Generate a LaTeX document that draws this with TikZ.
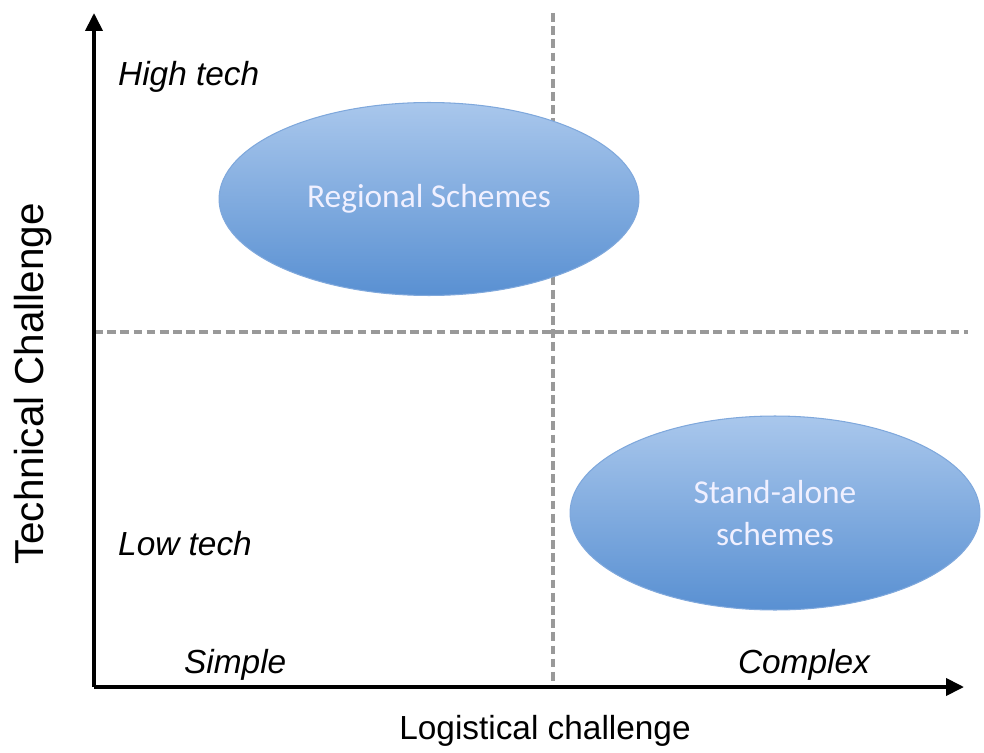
\documentclass[tikz,border=0pt]{standalone}
\usepackage{fontspec}
\setmainfont{Liberation Sans}
\newfontfamily\schemefont{Carlito}
\usetikzlibrary{arrows.meta,shapes.geometric}

\definecolor{schemetop}{HTML}{A9C7EC}
\definecolor{schemebot}{HTML}{5990D2}
\definecolor{schemeline}{HTML}{7FA8DC}

\begin{document}
\begin{tikzpicture}[x=0.02cm, y=-0.02cm,
  axis/.style={line width=2.2pt, -{Triangle[length=3.6mm, width=3.4mm]}},
  guide/.style={draw=black!40, line width=1.9pt, dash pattern=on 5pt off 2.5pt},
  scheme/.style={ellipse, draw=schemeline, line width=0.6pt, top color=schemetop, bottom color=schemebot,
    text=white!94!blue, align=center, inner sep=0pt, font=\schemefont\fontsize{19}{24}\selectfont},
  level/.style={font=\itshape\fontsize{19}{22}\selectfont},
  title/.style={font=\fontsize{19}{22}\selectfont}]

% fix the page to the size of the picture
\useasboundingbox (0,0) rectangle (984,753);

% corner points of the axes and the dashed split
\coordinate (origin) at (94,687);
\coordinate (ytip) at (94,13);
\coordinate (xtip) at (964,687);
\coordinate (vtop) at (553,13);
\coordinate (vbot) at (553,687);
\coordinate (hleft) at (94,332);
\coordinate (hright) at (968,332);

% the dashed quadrant lines
\draw[guide] (vtop) -- (vbot);
\draw[guide] (hleft) -- (hright);

% the two schemes
\node[scheme, minimum width=8.4cm, minimum height=3.86cm] (regional) at (429,199) {\raisebox{-5pt}{Regional Schemes}};
\node[scheme, minimum width=8.2cm, minimum height=3.88cm] (standalone) at (775,513) {Stand-alone\\schemes};

% axes
\draw[axis] (origin) -- (ytip);
\draw[axis] (origin) -- (xtip);

% and the labels
\node[level, anchor=base west] (high) at (112,86) {High tech};
\node[level, anchor=base west] (low) at (112,555) {Low tech};
\node[level, anchor=base west] (simple) at (178,673) {Simple};
\node[level, anchor=base east] (complex) at (876,673) {Complex};
\node[title, anchor=base] (logistical) at (545,739) {Logistical challenge};
\node[title, anchor=base, rotate=90, font=\fontsize{23}{26}\selectfont] (technical) at (43,384) {Technical Challenge};
\end{tikzpicture}
\end{document}
